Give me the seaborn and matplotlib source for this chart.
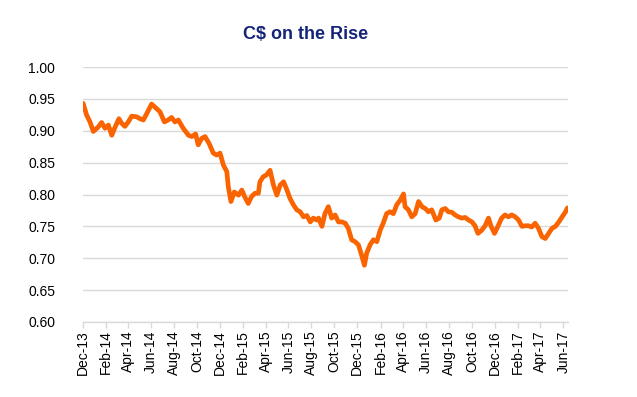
import pandas as pd
import seaborn as sns
import matplotlib.pyplot as plt
import matplotlib.dates as mdates

# C$ in US$
dates = [
    "2013-12-02", "2013-12-11", "2013-12-20", "2013-12-29", "2014-01-11", "2014-01-20",
    "2014-01-29", "2014-02-07", "2014-02-16", "2014-02-25", "2014-03-07", "2014-03-14",
    "2014-03-23", "2014-04-01", "2014-04-10", "2014-04-23", "2014-05-02", "2014-05-11",
    "2014-05-20", "2014-06-02", "2014-06-15", "2014-06-24", "2014-07-06", "2014-07-16",
    "2014-07-25", "2014-08-03", "2014-08-12", "2014-08-25", "2014-09-08", "2014-09-17",
    "2014-09-27", "2014-10-04", "2014-10-13", "2014-10-22", "2014-11-02", "2014-11-13",
    "2014-11-22", "2014-12-01", "2014-12-10", "2014-12-19", "2014-12-23", "2014-12-30",
    "2015-01-08", "2015-01-19", "2015-01-28", "2015-02-05", "2015-02-14", "2015-02-23",
    "2015-03-04", "2015-03-13", "2015-03-17", "2015-03-26", "2015-04-04", "2015-04-13",
    "2015-04-22", "2015-05-01", "2015-05-10", "2015-05-19", "2015-05-28", "2015-06-05",
    "2015-06-14", "2015-06-23", "2015-07-02", "2015-07-11", "2015-07-20", "2015-07-29",
    "2015-08-06", "2015-08-15", "2015-08-20", "2015-08-29", "2015-09-06", "2015-09-15",
    "2015-09-24", "2015-10-03", "2015-10-12", "2015-10-21", "2015-10-30", "2015-11-07",
    "2015-11-16", "2015-11-25", "2015-12-04", "2015-12-11", "2015-12-20", "2015-12-26",
    "2016-01-04", "2016-01-13", "2016-01-22", "2016-01-31", "2016-02-08", "2016-02-17",
    "2016-02-26", "2016-03-06", "2016-03-15", "2016-03-24", "2016-04-02", "2016-04-06",
    "2016-04-15", "2016-04-24", "2016-05-03", "2016-05-12", "2016-05-21", "2016-05-30",
    "2016-06-07", "2016-06-16", "2016-06-27", "2016-07-06", "2016-07-13", "2016-07-22",
    "2016-07-30", "2016-08-09", "2016-08-17", "2016-08-26", "2016-09-04", "2016-09-13",
    "2016-09-22", "2016-10-01", "2016-10-09", "2016-10-17", "2016-10-27", "2016-11-05",
    "2016-11-14", "2016-11-21", "2016-11-30", "2016-12-09", "2016-12-19", "2016-12-28",
    "2017-01-06", "2017-01-15", "2017-01-24", "2017-02-02", "2017-02-11", "2017-02-20",
    "2017-02-28", "2017-03-09", "2017-03-18", "2017-03-27", "2017-04-05", "2017-04-14",
    "2017-04-23", "2017-05-02", "2017-05-11", "2017-05-20", "2017-05-29", "2017-06-07",
    "2017-06-12",
]
cad_usd = [
    0.943, 0.925, 0.914, 0.899, 0.906, 0.913,
    0.904, 0.909, 0.893, 0.906, 0.919, 0.912,
    0.907, 0.914, 0.923, 0.922, 0.919, 0.917,
    0.927, 0.942, 0.935, 0.930, 0.914, 0.917,
    0.921, 0.914, 0.917, 0.904, 0.893, 0.891,
    0.895, 0.878, 0.888, 0.891, 0.880, 0.865,
    0.862, 0.865, 0.846, 0.836, 0.812, 0.789,
    0.804, 0.799, 0.807, 0.796, 0.786, 0.797,
    0.802, 0.802, 0.820, 0.828, 0.831, 0.838,
    0.815, 0.799, 0.815, 0.820, 0.807, 0.794,
    0.784, 0.776, 0.773, 0.765, 0.767, 0.757,
    0.763, 0.760, 0.763, 0.750, 0.770, 0.781,
    0.763, 0.768, 0.757, 0.757, 0.755, 0.747,
    0.729, 0.726, 0.721, 0.708, 0.689, 0.708,
    0.721, 0.729, 0.726, 0.744, 0.755, 0.770,
    0.773, 0.770, 0.784, 0.791, 0.801, 0.781,
    0.776, 0.765, 0.770, 0.789, 0.781, 0.778,
    0.773, 0.776, 0.760, 0.763, 0.776, 0.778,
    0.773, 0.772, 0.768, 0.765, 0.763, 0.764,
    0.760, 0.757, 0.751, 0.739, 0.744, 0.751,
    0.763, 0.750, 0.739, 0.750, 0.763, 0.768,
    0.765, 0.768, 0.765, 0.760, 0.750, 0.751,
    0.751, 0.749, 0.755, 0.747, 0.734, 0.731,
    0.739, 0.747, 0.750, 0.757, 0.765, 0.773,
    0.779,
]
y_ticks = [0.60, 0.65, 0.70, 0.75, 0.80, 0.85, 0.90, 0.95, 1.00]

df = pd.DataFrame({"Date": pd.to_datetime(dates), "CAD": cad_usd})

sns.set_theme(style="whitegrid")
plt.rcParams['font.family'] = ['Liberation Sans', 'DejaVu Sans']

fig = plt.figure(figsize=(6.37, 3.97), dpi=100)
ax = fig.add_axes([0.130, 0.189, 0.762, 0.642])

sns.lineplot(data=df, x="Date", y="CAD", color="#FA6400", linewidth=3.4, ax=ax)

ax.set_ylim(0.60, 1.00)
ax.set_yticks(y_ticks)
ax.yaxis.set_major_formatter(plt.FuncFormatter(lambda v, p: f"{v:.2f}"))
ax.set_xlim(pd.Timestamp("2013-12-01"), pd.Timestamp("2017-06-14"))
ax.xaxis.set_major_locator(mdates.MonthLocator(bymonth=[2, 4, 6, 8, 10, 12]))
ax.xaxis.set_major_formatter(mdates.DateFormatter("%b-%y"))

ax.set_xlabel("")
ax.set_ylabel("")
ax.grid(axis="x", visible=False)
ax.grid(axis="y", color="#D9D9D9", linewidth=1.0)
for side in ["left", "right", "top"]:
    ax.spines[side].set_visible(False)
ax.spines["bottom"].set_color("#D9D9D9")
ax.spines["bottom"].set_linewidth(1.0)
ax.tick_params(axis="x", rotation=90, labelsize=10, colors="#000000",
               bottom=True, length=4, width=1, color="#D9D9D9", pad=2)
ax.tick_params(axis="y", labelsize=10, left=False, pad=14, labelcolor="#000000")
ax.set_facecolor("white")

fig.text(0.48, 0.914, "C$ on the Rise", ha="center", va="center",
         fontsize=13, fontweight="bold", color="#14247A")

fig.savefig("out.png", dpi=100, facecolor="white")
